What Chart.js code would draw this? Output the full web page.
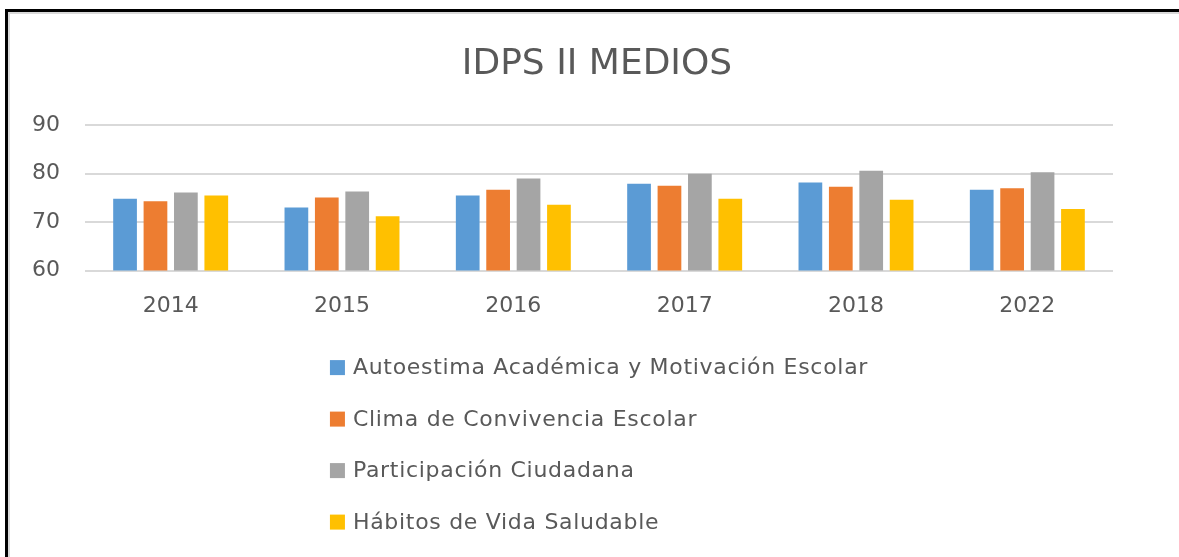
<!DOCTYPE html>
<html>
<head>
<meta charset="utf-8">
<title>IDPS II MEDIOS</title>
<script src="https://cdn.jsdelivr.net/npm/chart.js@4.4.1/dist/chart.umd.min.js"></script>
<style>
    html, body { margin: 0; padding: 0; background: #fff; }
    #wrap { position: relative; width: 1179px; height: 557px; overflow: hidden; }
    #frame {
        position: absolute; left: 5px; top: 9px; width: 1300px; height: 700px;
        border-top: 3px solid #000; border-left: 3px solid #000;
        box-shadow: inset 2px 2px 0 #d9d9d9;
    }
    #idpsChart { position: absolute; left: 0; top: 0; }
</style>
</head>
<body>
<div id="wrap">
    <div id="frame"></div>
    <canvas id="idpsChart" width="1179" height="557"></canvas>
</div>
<script>
// Years and indicator results
const years = ['2014', '2015', '2016', '2017', '2018', '2022'];
const autoestima = [74.8, 73.0, 75.5, 77.9, 78.2, 76.7];
const convivencia = [74.3, 75.1, 76.7, 77.5, 77.3, 77.0];
const participacion = [76.1, 76.3, 79.0, 80.0, 80.6, 80.3];
const habitos = [75.5, 71.2, 73.6, 74.8, 74.6, 72.7];
const seriesNames = [
    'Autoestima Académica y Motivación Escolar',
    'Clima de Convivencia Escolar',
    'Participación Ciudadana',
    'Hábitos de Vida Saludable'
];
const seriesColors = ['#5B9BD5', '#ED7D31', '#A5A5A5', '#FFC000'];
const yTicks = [60, 70, 80, 90];

const FONT = "'DejaVu Sans', sans-serif";
const TEXT = '#595959';

// Excel-like legend: one entry per row, centered block under the axis
const stackedLegend = {
    id: 'stackedLegend',
    afterDraw(chart) {
        const ctx = chart.ctx;
        const area = chart.chartArea;
        const boxSize = 15;
        const gap = 8;
        ctx.save();
        ctx.font = '22px ' + FONT;
        ctx.letterSpacing = '0.7px';
        ctx.textBaseline = 'middle';
        let maxW = 0;
        chart.data.datasets.forEach(ds => {
            maxW = Math.max(maxW, ctx.measureText(ds.label).width);
        });
        const blockW = boxSize + gap + maxW;
        const left = (area.left + area.right) / 2 - blockW / 2;
        chart.data.datasets.forEach((ds, i) => {
            const y = area.bottom + 97 + i * 51.5;
            ctx.fillStyle = ds.backgroundColor;
            ctx.fillRect(left, y - boxSize / 2, boxSize, boxSize);
            ctx.fillStyle = TEXT;
            ctx.fillText(ds.label, left + boxSize + gap, y + 1);
        });
        ctx.restore();
    }
};

const allValues = [autoestima, convivencia, participacion, habitos];

new Chart(document.getElementById('idpsChart').getContext('2d'), {
    type: 'bar',
    data: {
        labels: years,
        datasets: allValues.map((vals, i) => ({
            label: seriesNames[i],
            data: vals,
            backgroundColor: seriesColors[i],
            borderWidth: 0,
            categoryPercentage: 0.71,
            barPercentage: 0.78
        }))
    },
    options: {
        responsive: false,
        animation: false,
        layout: {
            padding: { top: 23, left: 15, right: 0, bottom: 216 }
        },
        plugins: {
            legend: { display: false },
            tooltip: { enabled: false },
            title: {
                display: true,
                text: 'IDPS II MEDIOS',
                color: TEXT,
                font: { family: FONT, size: 36, weight: 'normal' },
                padding: { top: 20, bottom: 39 }
            }
        },
        scales: {
            x: {
                grid: { display: false, drawTicks: false },
                border: { display: false },
                ticks: {
                    color: TEXT,
                    padding: 22,
                    font: { family: FONT, size: 22 }
                }
            },
            y: {
                min: 60,
                max: 90,
                afterBuildTicks(scale) {
                    scale.ticks = yTicks.map(v => ({ value: v }));
                },
                afterFit(scale) {
                    scale.width = 70;
                },
                grid: { color: '#D9D9D9', lineWidth: 2, drawTicks: false },
                border: { display: false },
                ticks: {
                    color: TEXT,
                    padding: 25,
                    font: { family: FONT, size: 22 }
                }
            },
            // empty right margin so the title centres over the whole frame
            yRight: {
                position: 'right',
                min: 60,
                max: 90,
                afterFit(scale) {
                    scale.width = 66;
                },
                grid: { display: false, drawTicks: false },
                border: { display: false },
                ticks: { display: false }
            }
        }
    },
    plugins: [stackedLegend]
});
</script>
</body>
</html>
